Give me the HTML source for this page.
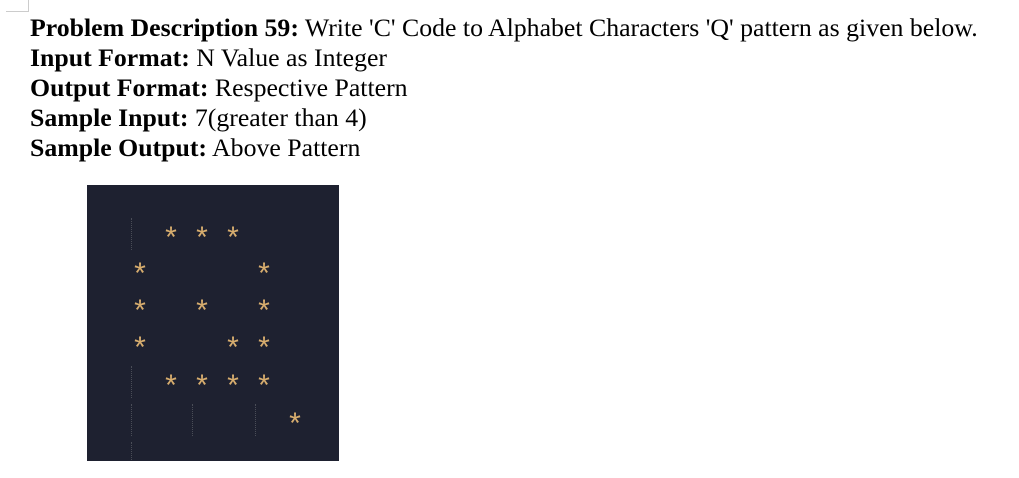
<!DOCTYPE html>
<html><head><meta charset="utf-8"><style>
body{margin:0;width:1019px;height:478px;background:#fff;position:relative;overflow:hidden;font-family:"Liberation Serif",serif;}
.t{position:absolute;left:30px;top:13px;font-size:25.8px;line-height:30px;color:#000;white-space:nowrap;}
.corner{position:absolute;left:6px;top:0;width:22px;height:11px;border-right:1px solid #ccc;border-bottom:1px solid #ccc;}
.panel{position:absolute;left:87px;top:185px;width:252px;height:276px;background:#1e2130;}
.s{position:absolute;width:30px;height:30px;margin-left:-15px;margin-top:-6px;text-align:center;font-family:"Liberation Mono",monospace;font-size:30px;line-height:30px;color:#d7ad6e;}
.d{position:absolute;width:0;border-left:1px dotted #4a4d57;}
</style></head><body>
<div class="corner"></div>
<div class="t">
<div><b>Problem Description 59:</b> Write 'C' Code to Alphabet Characters 'Q' pattern as given below.</div>
<div><b>Input Format:</b> N Value as Integer</div>
<div><b>Output Format:</b> Respective Pattern</div>
<div><b>Sample Input:</b> 7(greater than 4)</div>
<div><b>Sample Output:</b> Above Pattern</div>
</div>
<div class="panel"></div>
<div class="d" style="left:131px;top:218px;height:32px"></div>
<div class="d" style="left:131px;top:366px;height:32px"></div>
<div class="d" style="left:131px;top:404px;height:32px"></div>
<div class="d" style="left:131px;top:442px;height:18px"></div>
<div class="d" style="left:192px;top:404px;height:32px"></div>
<div class="d" style="left:255px;top:404px;height:32px"></div>
<div class="s" style="left:171px;top:232px">*</div>
<div class="s" style="left:202px;top:232px">*</div>
<div class="s" style="left:233px;top:232px">*</div>
<div class="s" style="left:140px;top:268px">*</div>
<div class="s" style="left:264px;top:268px">*</div>
<div class="s" style="left:140px;top:305px">*</div>
<div class="s" style="left:202px;top:305px">*</div>
<div class="s" style="left:264px;top:305px">*</div>
<div class="s" style="left:140px;top:342px">*</div>
<div class="s" style="left:233px;top:342px">*</div>
<div class="s" style="left:264px;top:342px">*</div>
<div class="s" style="left:171px;top:380px">*</div>
<div class="s" style="left:202px;top:380px">*</div>
<div class="s" style="left:233px;top:380px">*</div>
<div class="s" style="left:264px;top:380px">*</div>
<div class="s" style="left:295px;top:418px">*</div>
</body></html>
